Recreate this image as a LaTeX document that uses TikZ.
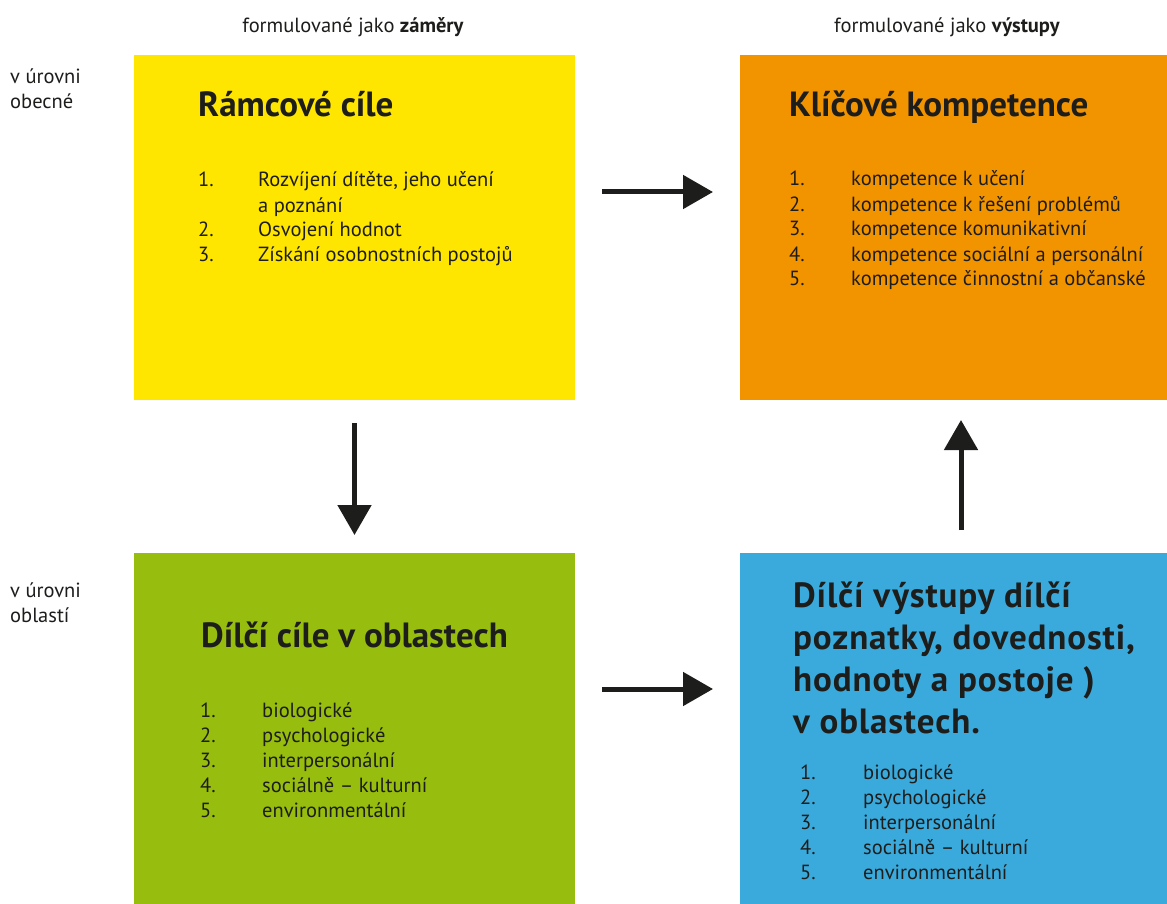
\documentclass[tikz,border=0pt]{standalone}
\usepackage{fontspec}
\setmainfont{PT Sans}
\newfontfamily\widebold[LetterSpace=2.5]{PT Sans Bold}
\usetikzlibrary{arrows.meta}
\definecolor{cyellow}{RGB}{255,230,0}
\definecolor{corange}{RGB}{242,148,0}
\definecolor{cgreen}{RGB}{151,189,14}
\definecolor{cblue}{RGB}{58,170,220}
\definecolor{ink}{RGB}{29,29,27}
\tikzset{
  box/.style={rectangle, inner sep=0pt, outer sep=0pt, anchor=north west, draw=none},
  ttl/.style={anchor=base west, inner sep=0pt, text=ink, font=\fontsize{35}{42}\selectfont\bfseries},
  lst/.style={anchor=base west, inner sep=0pt, text=ink, font=\fontsize{20.5}{25}\selectfont},
  lbl/.style={anchor=base west, inner sep=0pt, text=ink, font=\fontsize{20.5}{25}\selectfont, align=left},
  hdr/.style={anchor=base, inner sep=0pt, text=ink, font=\fontsize{20.5}{24}\selectfont},
  arr/.style={line width=5pt, draw=ink, -{Triangle[length=30pt,width=33pt]}}
}
\begin{document}
\begin{tikzpicture}[x=1pt,y=-1pt]
\useasboundingbox (0,0) rectangle (1167,904);
\fill[white] (0,0) rectangle (1167,904);
% boxes
\node[box, fill=cyellow, minimum width=441pt, minimum height=345pt] (yel) at (134,55) {};
\node[box, fill=corange, minimum width=427pt, minimum height=345pt] (ora) at (740,55) {};
\node[box, fill=cgreen, minimum width=441pt, minimum height=351pt] (gre) at (134,553) {};
\node[box, fill=cblue, minimum width=427pt, minimum height=351pt] (blu) at (740,553) {};
% headers
\node[hdr] (h1) at (353,33) {formulované jako \textbf{záměry}};
\node[hdr] (h2) at (947,33) {formulované jako \textbf{výstupy}};
% left labels (anchor = baseline of last line)
\node[lbl] (l1) at (10,109) {v úrovni\\obecné};
\node[lbl] (l2) at (10,622) {v úrovni\\oblastí};
% titles
\node[ttl] (t1) at (198,117) {Rámcové cíle};
\node[ttl] (t2) at (789,117) {Klíčové kompetence};
\node[ttl] (t3) at (201,647) {Dílčí cíle v oblastech};
\node[ttl, align=left, font=\fontsize{35}{41.7}\selectfont\widebold] (t4) at (793,733) {Dílčí výstupy dílčí\\poznatky, dovednosti,\\hodnoty a postoje )\\v oblastech.};
% lists
\node[lst] (s1) at (198,187) {\begin{tabular}[t]{@{}p{60pt}@{}l@{}}
1. & Rozvíjení dítěte, jeho učení\\
   & a poznání\\
2. & Osvojení hodnot\\
3. & Získání osobnostních postojů
\end{tabular}};
\node[lst] (s2) at (789,186) {\begin{tabular}[t]{@{}p{62pt}@{}l@{}}
1. & kompetence k učení\\
2. & kompetence k řešení problémů\\
3. & kompetence komunikativní\\
4. & kompetence sociální a personální\\
5. & kompetence činnostní a občanské
\end{tabular}};
\node[lst] (s3) at (200,717) {\begin{tabular}[t]{@{}p{62pt}@{}l@{}}
1. & biologické\\
2. & psychologické\\
3. & interpersonální\\
4. & sociálně – kulturní\\
5. & environmentální
\end{tabular}};
\node[lst] (s4) at (800,779) {\begin{tabular}[t]{@{}p{63pt}@{}l@{}}
1. & biologické\\
2. & psychologické\\
3. & interpersonální\\
4. & sociálně – kulturní\\
5. & environmentální
\end{tabular}};
% arrows
\draw[arr, shorten <=27pt, shorten >=27pt] ([yshift=35.5pt]yel.east) -- ([yshift=35.5pt]ora.west);
\draw[arr, shorten <=27pt, shorten >=27pt] ([yshift=39.5pt]gre.east) -- ([yshift=39.5pt]blu.west);
\draw[arr, shorten <=23pt, shorten >=18pt] (yel.south) -- (gre.north);
\draw[arr, shorten <=23pt, shorten >=20pt] ([xshift=7.5pt]blu.north) -- ([xshift=7.5pt]ora.south);
\end{tikzpicture}
\end{document}
